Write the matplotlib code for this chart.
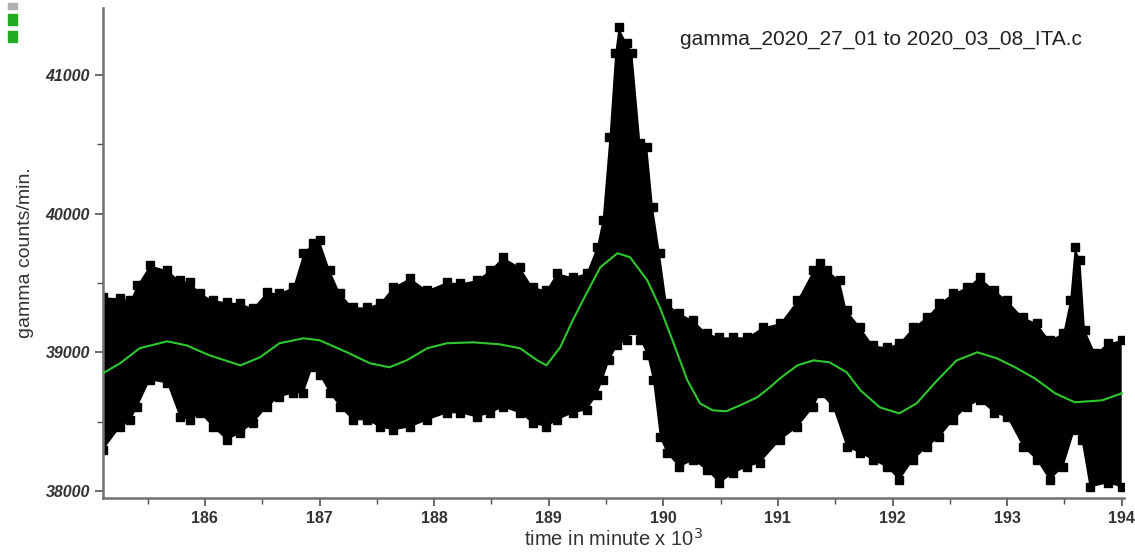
import numpy as np
import matplotlib
matplotlib.use("Agg")
import matplotlib.pyplot as plt
from matplotlib.patches import Rectangle

# upper edge of the point cloud (time in minute x 10^3, gamma counts/min)
TOP_X = [185.11, 185.26, 185.35, 185.41, 185.52, 185.67, 185.78, 185.87, 185.96,
         186.07, 186.19, 186.31, 186.42, 186.54, 186.65, 186.77, 186.86, 186.94,
         187.00, 187.09, 187.18, 187.29, 187.41, 187.53, 187.64, 187.79, 187.94,
         188.11, 188.23, 188.37, 188.49, 188.60, 188.75, 188.86, 188.98, 189.07,
         189.21, 189.33, 189.42, 189.47, 189.53, 189.58, 189.61, 189.68, 189.73,
         189.80, 189.86, 189.91, 189.97, 190.03, 190.14, 190.26, 190.38, 190.49,
         190.61, 190.73, 190.87, 191.02, 191.17, 191.31, 191.37, 191.43, 191.54,
         191.60, 191.72, 191.83, 191.95, 192.06, 192.18, 192.30, 192.41, 192.53,
         192.65, 192.76, 192.89, 193.00, 193.14, 193.26, 193.37, 193.49, 193.55,
         193.59, 193.64, 193.68, 193.77, 193.88, 194.00]
TOP_Y = [39397, 39389, 39375, 39483, 39627, 39591, 39519, 39505, 39425,
         39375, 39361, 39353, 39317, 39433, 39425, 39469, 39714, 39786,
         39808, 39591, 39425, 39324, 39324, 39353, 39469, 39534, 39447,
         39505, 39497, 39519, 39591, 39685, 39613, 39469, 39447, 39570,
         39541, 39570, 39757, 39952, 40550, 41156, 41343, 41228, 41156,
         40507, 40478, 40045, 39714, 39353, 39281, 39231, 39137, 39108,
         39108, 39108, 39180, 39209, 39375, 39591, 39642, 39591, 39519,
         39303, 39180, 39050, 39036, 39065, 39180, 39252, 39353, 39425,
         39469, 39541, 39447, 39375, 39252, 39209, 39087, 39137, 39375,
         39757, 39663, 39159, 38993, 39065, 39087]

# lower edge of the point cloud
LOW_X = [185.11, 185.26, 185.35, 185.41, 185.52, 185.67, 185.78, 185.87, 185.96,
         186.07, 186.19, 186.31, 186.42, 186.54, 186.65, 186.77, 186.86, 186.94,
         187.00, 187.09, 187.18, 187.29, 187.41, 187.53, 187.64, 187.79, 187.94,
         188.11, 188.23, 188.37, 188.49, 188.60, 188.75, 188.86, 188.98, 189.07,
         189.21, 189.33, 189.42, 189.47, 189.53, 189.60, 189.68, 189.73, 189.80,
         189.86, 189.91, 189.97, 190.03, 190.14, 190.26, 190.38, 190.49, 190.61,
         190.73, 190.84, 191.02, 191.17, 191.31, 191.37, 191.48, 191.60, 191.72,
         191.83, 191.95, 192.06, 192.18, 192.30, 192.41, 192.53, 192.65, 192.76,
         192.89, 193.00, 193.14, 193.26, 193.37, 193.49, 193.59, 193.65, 193.72,
         193.88, 194.00]
LOW_Y = [38293, 38459, 38510, 38603, 38798, 38776, 38531, 38510, 38560,
         38459, 38366, 38416, 38488, 38603, 38676, 38704, 38704, 38892,
         38834, 38704, 38603, 38510, 38510, 38459, 38438, 38459, 38510,
         38560, 38560, 38531, 38560, 38603, 38560, 38488, 38459, 38510,
         38560, 38582, 38690, 38798, 38942, 39050, 39087, 39159, 39087,
         38978, 38798, 38387, 38272, 38171, 38221, 38149, 38055, 38128,
         38171, 38200, 38366, 38459, 38603, 38704, 38603, 38315, 38272,
         38221, 38171, 38077, 38221, 38315, 38387, 38510, 38603, 38654,
         38560, 38531, 38315, 38221, 38077, 38171, 38438, 38366, 38027,
         38055, 38027]

# green smoothed curve
FIT_X = [185.11, 185.26, 185.43, 185.67, 185.84, 186.04, 186.31, 186.48, 186.65,
         186.86, 187.00, 187.24, 187.44, 187.61, 187.76, 187.94, 188.11, 188.34,
         188.57, 188.75, 188.90, 188.98, 189.10, 189.21, 189.33, 189.45, 189.60,
         189.71, 189.86, 189.97, 190.08, 190.21, 190.32, 190.43, 190.55, 190.67,
         190.82, 190.93, 191.02, 191.17, 191.31, 191.45, 191.60, 191.72, 191.89,
         192.06, 192.21, 192.39, 192.56, 192.74, 192.91, 193.07, 193.24, 193.42,
         193.59, 193.83, 194.00]
FIT_Y = [38849, 38921, 39029, 39079, 39050, 38978, 38906, 38964, 39065,
         39101, 39087, 39000, 38921, 38892, 38942, 39029, 39065, 39072,
         39058, 39029, 38942, 38906, 39036, 39231, 39425, 39613, 39714,
         39685, 39519, 39324, 39087, 38798, 38632, 38582, 38575, 38618,
         38676, 38748, 38813, 38906, 38942, 38928, 38856, 38726, 38603,
         38560, 38632, 38798, 38942, 39000, 38957, 38892, 38813, 38704,
         38640, 38654, 38704]

X_TICKS = [186, 187, 188, 189, 190, 191, 192, 193, 194]
Y_TICKS = [38000, 39000, 40000, 41000]
TITLE = "gamma_2020_27_01 to 2020_03_08_ITA.c"

plt.rcParams['font.family'] = ['Liberation Sans', 'DejaVu Sans']

fig = plt.figure(figsize=(11.35, 5.56), dpi=100)
ax = fig.add_axes([0.0907, 0.1043, 0.8996, 0.881])

# point cloud drawn as filled band between the two edges, edges marked with squares
band_x = np.concatenate([TOP_X, LOW_X[::-1]])
band_y = np.concatenate([TOP_Y, LOW_Y[::-1]])
ax.fill(band_x, band_y, color='black', lw=0, zorder=2)
ax.plot(TOP_X, TOP_Y, 's', color='black', ms=6, zorder=2)
ax.plot(LOW_X, LOW_Y, 's', color='black', ms=6, zorder=2)

ax.plot(FIT_X, FIT_Y, color='#2ec82e', lw=1.5, zorder=3)

ax.set_xlim(185.11, 194.02)
ax.set_ylim(37950, 41480)
ax.set_xticks(X_TICKS)
ax.set_xticks(np.arange(185.5, 194, 1.0), minor=True)
ax.set_yticks(Y_TICKS)
ax.set_yticks([38500, 39500, 40500], minor=True)
ax.set_xticklabels([str(t) for t in X_TICKS], fontsize=11.5, fontweight='bold')
ax.set_yticklabels([str(t) for t in Y_TICKS], fontsize=11.5, fontweight='bold',
                   fontstyle='italic')

for s in ['top', 'right']:
    ax.spines[s].set_visible(False)
for s in ['left', 'bottom']:
    ax.spines[s].set_color('#707070')
    ax.spines[s].set_linewidth(1.8)
ax.tick_params(which='major', length=6, width=1.2, color='#505050', colors='#333333')
ax.tick_params(which='minor', length=4, width=1.0, color='#505050')

ax.set_xlabel("time in minute x 10$^3$", fontsize=14.5, color='#333333', labelpad=1)
ax.set_ylabel("gamma counts/min.", fontsize=14, color='#333333', labelpad=8)
ax.text(0.565, 0.925, TITLE, transform=ax.transAxes, fontsize=15, color='#222222')

# clipped legend remnants in the top left corner
fig.add_artist(Rectangle((0.007, 0.983), 0.008, 0.012, color='#b0b0b0',
                         transform=fig.transFigure))
fig.add_artist(Rectangle((0.007, 0.955), 0.008, 0.020, color='#22aa22',
                         transform=fig.transFigure))
fig.add_artist(Rectangle((0.007, 0.925), 0.008, 0.020, color='#22aa22',
                         transform=fig.transFigure))

fig.savefig("out.png", dpi=100)
